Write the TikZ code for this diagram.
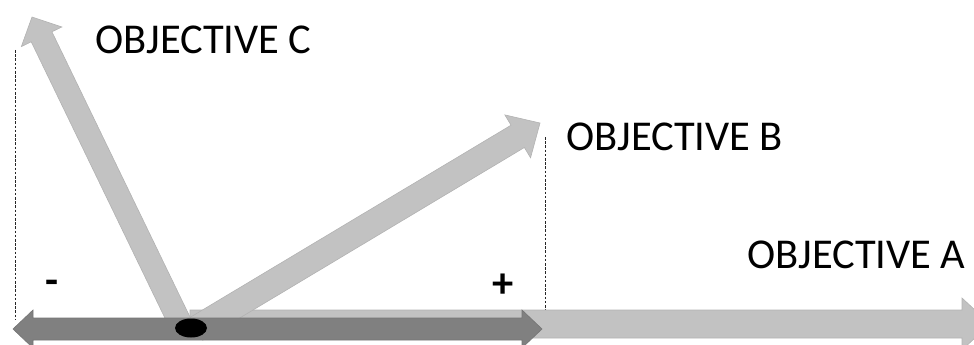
\documentclass[tikz,border=0pt]{standalone}
\usepackage{fontspec}
\setmainfont{Carlito}
\usetikzlibrary{calc,shapes.geometric}
\definecolor{lightbar}{gray}{0.76}
\definecolor{lightedge}{gray}{0.70}
\definecolor{darkbar}{gray}{0.50}
\definecolor{darkedge}{gray}{0.46}

% Block arrow: #1 start, #2 tip, #3 half shaft width, #4 head length,
% #5 half head width, #6 style
\newcommand\blockarrow[6]{%
  \path ($(#2)!#4!(#1)$) coordinate (ba-neck);
  \filldraw[#6] ($(#1)!#3!90:(#2)$) -- ($(ba-neck)!#3!90:(#2)$)
    -- ($(ba-neck)!#5!90:(#2)$) -- (#2)
    -- ($(ba-neck)!#5!-90:(#2)$) -- ($(ba-neck)!#3!-90:(#2)$)
    -- ($(#1)!#3!-90:(#2)$) -- cycle;
}

\begin{document}
\begin{tikzpicture}[x=1pt,y=-1pt,
  label/.style={font=\fontsize{42.5}{50}\selectfont, inner sep=0pt},
  sign/.style={font=\fontsize{42.5}{50}\selectfont\bfseries, inner sep=0pt},
  guide/.style={draw=black!85, line width=1pt, dash pattern=on 2.6pt off 1.6pt},
  lightarrow/.style={fill=lightbar, draw=lightedge, line width=0.6pt},
  darkarrow/.style={fill=darkbar, draw=darkedge, line width=0.6pt}]
\useasboundingbox (0,0) rectangle (974,345);
\clip (0,0) rectangle (974,345);

% end points of the arrows
\coordinate (a-start) at (190,324);
\coordinate (a-tip)   at (990,324);
\coordinate (b-start) at (196,329);
\coordinate (b-tip)   at (540,123);
\coordinate (c-start) at (184,331);
\coordinate (c-tip)   at (32,17);
\coordinate (left-tip)  at (13,329);
\coordinate (right-tip) at (542,329);

% dashed guides
\coordinate (gl-top) at (15,50);
\coordinate (gl-bot) at (15,320);
\coordinate (gr-top) at (545,137);
\coordinate (gr-bot) at (545,310);
\draw[guide] (gl-top) -- (gl-bot);
\draw[guide] (gr-top) -- (gr-bot);

% objective arrows
\blockarrow{a-start}{a-tip}{14pt}{28pt}{26pt}{lightarrow}
\blockarrow{b-start}{b-tip}{13pt}{26pt}{25pt}{lightarrow}
\blockarrow{c-start}{c-tip}{11.5pt}{22pt}{22.5pt}{lightarrow}

% double-headed range arrow
\filldraw[darkarrow] (left-tip) -- (33,310) -- (33,318) -- (522,318) -- (522,310)
  -- (right-tip) -- (522,348) -- (522,340) -- (33,340) -- (33,348) -- cycle;

% origin
\node[ellipse, fill=black, minimum width=32pt, minimum height=19pt, inner sep=0pt]
  (origin) at (191,328) {};

% labels
\node[label, anchor=base west] (lab-c) at (95,53) {OBJECTIVE C};
\node[label, anchor=base west] (lab-b) at (566,150) {OBJECTIVE B};
\node[label, anchor=base west] (lab-a) at (747,268) {OBJECTIVE A};
\node[sign] (minus) at (52,287) {-};
\node[sign] (plus) at (503,286) {+};
\end{tikzpicture}
\end{document}
